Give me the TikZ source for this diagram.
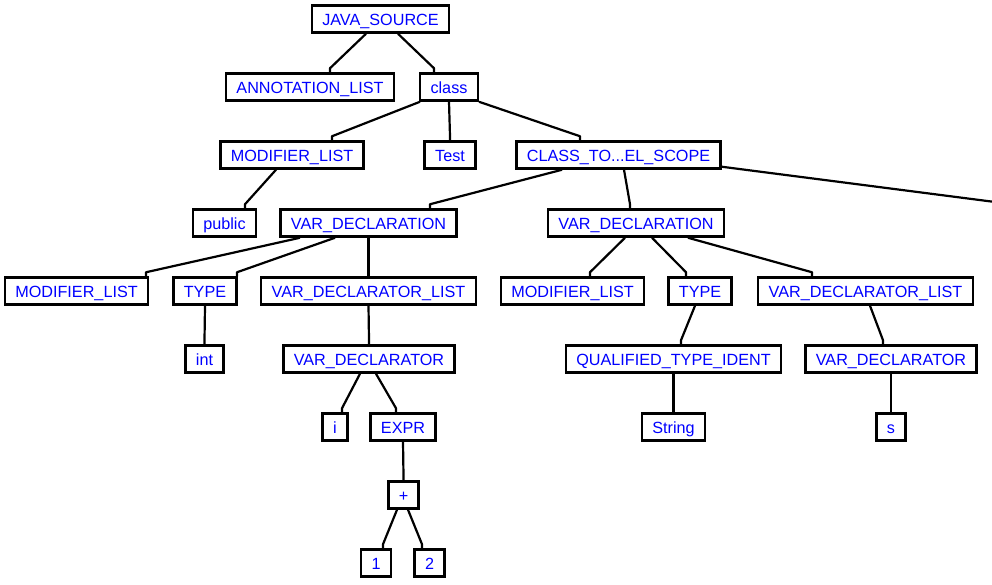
\documentclass[tikz,border=0pt]{standalone}
\usepackage{fontspec}
\setmainfont{Liberation Sans}
\usetikzlibrary{calc}
\definecolor{labelblue}{RGB}{0,0,255}
\tikzset{
  astnode/.style={draw=black, line width=2.5pt, fill=white, text=labelblue,
    font=\fontsize{16.2}{18}\selectfont, inner xsep=10.5pt, inner ysep=0pt,
    minimum height=27pt, text height=13.2pt, text depth=1.2pt},
  edge/.style={draw=black, line width=2.2pt, line join=round}
}
% parent, start offset, child, end offset
\newcommand{\treeedge}[4]{%
  \draw[edge] ($(#1.south)+(#2,0)$) -- ($(#3.north)+(#4,-4)$) -- ($(#3.north)+(#4,0)$);}
\begin{document}
\begin{tikzpicture}[x=1pt, y=-1pt]
\useasboundingbox (0,0) rectangle (992,584);

\node[astnode] (js)   at (380.5,19) {JAVA\_SOURCE};
\node[astnode] (al)   at (310,87)   {ANNOTATION\_LIST};
\node[astnode] (cls)  at (449,87)   {class};
\node[astnode] (ml1)  at (292,155)  {MODIFIER\_LIST};
\node[astnode] (test) at (450,155)  {Test};
\node[astnode] (cts)  at (618.5,155) {CLASS\_TO...EL\_SCOPE};
\node[astnode] (pub)  at (224.5,223) {public};
\node[astnode] (vd1)  at (368.5,223) {VAR\_DECLARATION};
\node[astnode] (vd2)  at (636,223)  {VAR\_DECLARATION};
\node[astnode] (ml2)  at (76.5,291) {MODIFIER\_LIST};
\node[astnode] (ty1)  at (205,291)  {TYPE};
\node[astnode] (vdl1) at (368.5,291) {VAR\_DECLARATOR\_LIST};
\node[astnode] (ml3)  at (572.5,291) {MODIFIER\_LIST};
\node[astnode] (ty2)  at (700,291)  {TYPE};
\node[astnode] (vdl2) at (865.5,291) {VAR\_DECLARATOR\_LIST};
\node[astnode] (int)  at (204.5,359) {int};
\node[astnode] (dcl1) at (369,359)  {VAR\_DECLARATOR};
\node[astnode] (qti)  at (673.5,359) {QUALIFIED\_TYPE\_IDENT};
\node[astnode] (dcl2) at (891,359)  {VAR\_DECLARATOR};
\node[astnode] (vi)   at (335,427)  {i};
\node[astnode] (expr) at (403,427)  {EXPR};
\node[astnode] (str)  at (673.5,427) {String};
\node[astnode] (vs)   at (891,427)  {s};
\node[astnode] (plus) at (403.5,495) {+};
\node[astnode] (one)  at (376,563)  {1};
\node[astnode] (two)  at (429.5,563) {2};

\coordinate (offpage) at (995,202);

\treeedge{js}{-14.5}{al}{20}
\treeedge{js}{17.5}{cls}{-15}
\treeedge{cls}{-29}{ml1}{40}
\treeedge{cls}{0}{test}{0}
\treeedge{cls}{30}{cts}{-38.5}
\treeedge{cts}{-56.5}{vd1}{61.5}
\treeedge{cts}{5.5}{vd2}{-6}
\draw[edge] ($(cts.south east)+(0,-3)$) -- (offpage);
\treeedge{ml1}{-16}{pub}{20.5}
\treeedge{vd1}{-68.5}{ml2}{69.5}
\treeedge{vd1}{-33.5}{ty1}{32}
\treeedge{vd1}{0}{vdl1}{0}
\treeedge{vd2}{-11}{ml3}{17.5}
\treeedge{vd2}{16}{ty2}{-14}
\treeedge{vd2}{52}{vdl2}{-53.5}
\treeedge{ty1}{0}{int}{0}
\treeedge{vdl1}{0}{dcl1}{0}
\treeedge{ty2}{-5}{qti}{7.5}
\treeedge{vdl2}{4.5}{dcl2}{-8}
\treeedge{qti}{0}{str}{0}
\treeedge{dcl2}{0}{vs}{0}
\treeedge{dcl1}{-9}{vi}{7}
\treeedge{dcl1}{7}{expr}{-7}
\treeedge{expr}{0}{plus}{0}
\treeedge{plus}{-6.5}{one}{7}
\treeedge{plus}{4.5}{two}{-7.5}
\end{tikzpicture}
\end{document}
